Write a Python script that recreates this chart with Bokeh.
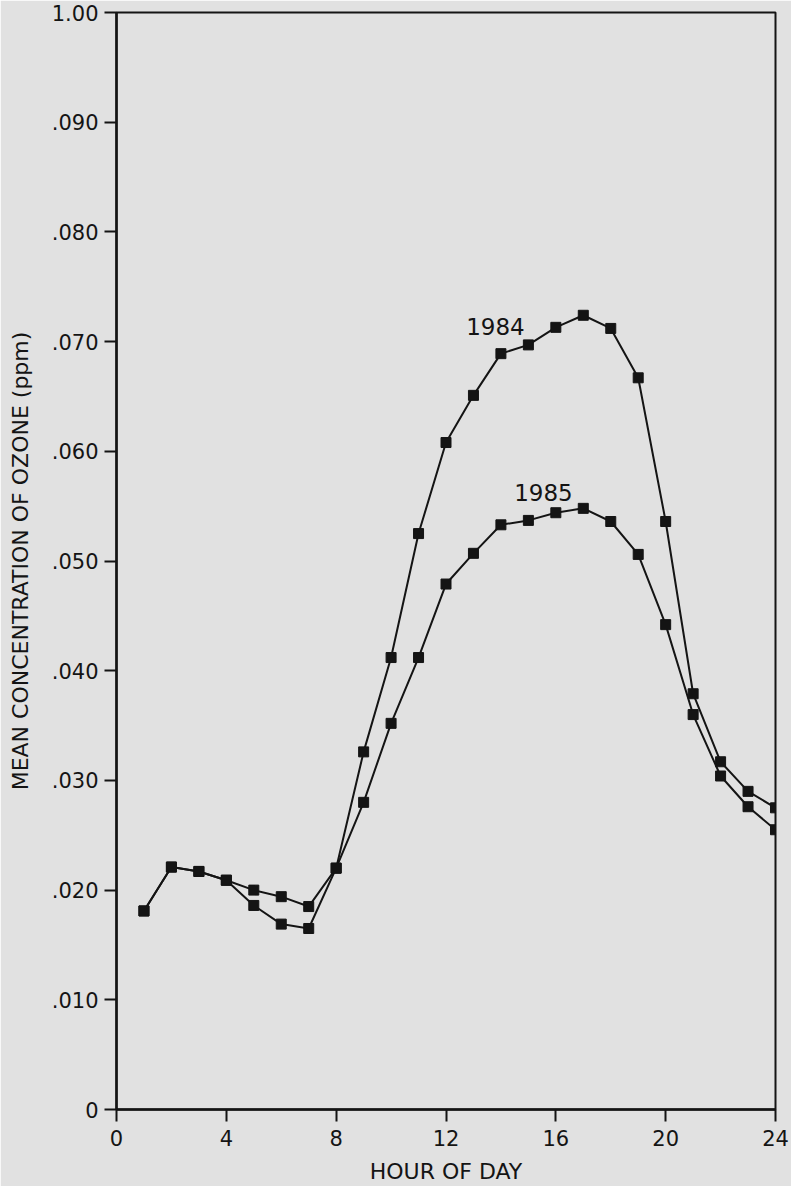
from bokeh.plotting import figure
from bokeh.models import FixedTicker, Range1d
from bokeh.core.properties import value
from bokeh.embed import file_html
from bokeh.resources import INLINE

# ---- data ----
hours = list(range(1, 25))
ozone_1984 = [0.0181, 0.0221, 0.0217, 0.0209, 0.0186, 0.0169, 0.0165, 0.0220,
              0.0326, 0.0412, 0.0525, 0.0608, 0.0651, 0.0689, 0.0697, 0.0713,
              0.0724, 0.0712, 0.0667, 0.0536, 0.0379, 0.0317, 0.0290, 0.0275]
ozone_1985 = [0.0181, 0.0221, 0.0217, 0.0209, 0.0200, 0.0194, 0.0185, 0.0220,
              0.0280, 0.0352, 0.0412, 0.0479, 0.0507, 0.0533, 0.0537, 0.0544,
              0.0548, 0.0536, 0.0506, 0.0442, 0.0360, 0.0304, 0.0276, 0.0255]
series_names = ["1984", "1985"]
x_ticks = [0, 4, 8, 12, 16, 20, 24]
y_ticks = [0, 0.01, 0.02, 0.03, 0.04, 0.05, 0.06, 0.07, 0.08, 0.09, 0.1]
y_tick_labels = ["0", ".010", ".020", ".030", ".040", ".050", ".060", ".070",
                 ".080", ".090", "1.00"]
x_title = "HOUR OF DAY"
y_title = "MEAN CONCENTRATION OF OZONE (ppm)"

# annotation positions (data units)
name_x = [13.8, 15.55]
name_y = [0.0714, 0.0562]

FONT = "DejaVu Sans"
BG = "#e1e1e1"
INK = "#141414"

p = figure(width=791, height=1186, output_backend="svg", toolbar_location=None,
           x_range=Range1d(0, 24), y_range=Range1d(0, 0.1),
           min_border_left=116, min_border_right=16, min_border_top=12,
           min_border_bottom=73)
p.background_fill_color = BG
p.border_fill_color = BG
p.outline_line_color = INK
p.outline_line_width = 2
p.xgrid.visible = False
p.ygrid.visible = False

for ys in (ozone_1984, ozone_1985):
    p.line(hours, ys, line_color=INK, line_width=2)
    p.scatter(hours, ys, marker="square", size=10, fill_color=INK, line_color=INK)

p.text(x=name_x, y=name_y, text=series_names, text_align="center",
       text_baseline="middle", text_font=value(FONT), text_font_size="23px",
       text_color=INK)

# axes
p.xaxis.ticker = FixedTicker(ticks=x_ticks)
p.yaxis.ticker = FixedTicker(ticks=y_ticks)
p.yaxis.major_label_overrides = {t: l for t, l in zip(y_ticks, y_tick_labels)}
for ax in (p.xaxis, p.yaxis):
    ax.axis_line_color = INK
    ax.axis_line_width = 2.5
    ax.major_tick_line_color = INK
    ax.major_tick_line_width = 2
    ax.major_tick_out = 12
    ax.major_tick_in = 0
    ax.minor_tick_line_color = None
    ax.major_label_text_font = FONT
    ax.major_label_text_font_size = "21px"
    ax.major_label_text_color = INK
    ax.axis_label_text_font = FONT
    ax.axis_label_text_font_size = "22px"
    ax.axis_label_text_font_style = "normal"
    ax.axis_label_text_color = INK
p.xaxis.major_label_standoff = 8
p.yaxis.major_label_standoff = 6

p.xaxis.axis_label = x_title
p.xaxis.axis_label_standoff = 10
p.yaxis.axis_label = y_title
p.yaxis.axis_label_standoff = 16

open("out.html", "w").write(file_html(p, INLINE))
